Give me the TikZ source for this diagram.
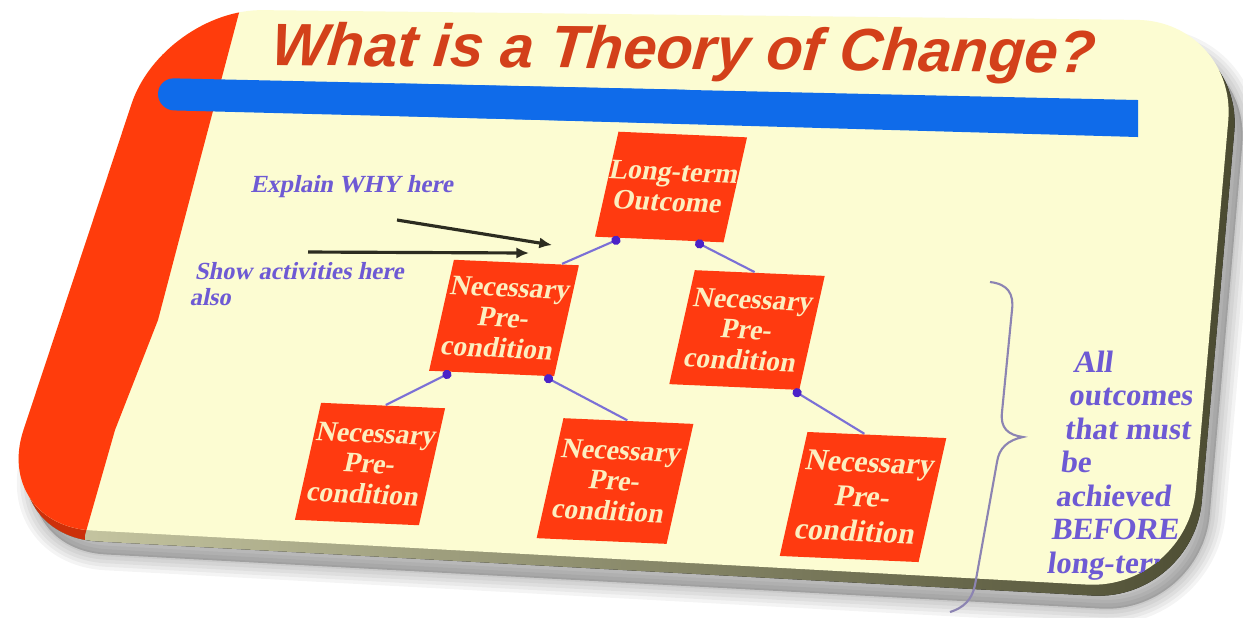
\documentclass[tikz,border=0pt]{standalone}
\usepackage{fontspec}
\setmainfont{Liberation Serif}
\newfontfamily\headfont{Liberation Sans}
\usetikzlibrary{arrows.meta,calc}

\definecolor{slidecream}{HTML}{FCFCD2}
\definecolor{stripred}{HTML}{FF3C0C}
\definecolor{boxred}{HTML}{FF3A10}
\definecolor{boxtext}{HTML}{FCEFC0}
\definecolor{headred}{HTML}{D3401A}
\definecolor{barblue}{HTML}{0F6BEA}
\definecolor{notepurple}{HTML}{6E5AD4}
\definecolor{linkpurple}{HTML}{7B70D6}
\definecolor{dotpurple}{HTML}{4B22C8}
\definecolor{bracegray}{HTML}{8C84B2}
\definecolor{bevlight}{HTML}{CDCDA8}
\definecolor{bevdark}{HTML}{4A4A30}
\definecolor{pointer}{HTML}{2C2C20}

% outline of the slide face and of its red strip
\newcommand\facepath{(163,-9) -- (1237,-21) -- (1187,-590) -- (-8,-525) -- cycle}
\newcommand\strippath{(250,40) -- (240,-9) -- (200,-160) -- (158,-320) -- (115,-430) -- (85,-535) -- (80,-640) -- (-60,-640) -- (-60,40) -- cycle}

\begin{document}
\begin{tikzpicture}[x=0.01cm, y=0.01cm,
    pcbox/.style={fill=boxred, text=boxtext,
        font=\bfseries\fontsize{8}{8.6}\selectfont,
        align=center, inner sep=0pt, xslant=0.18, rotate=-2.5},
    link/.style={linkpurple, line width=0.6pt,
        -{Circle[length=2.6pt, color=dotpurple, fill=dotpurple]}},
    ptr/.style={pointer, line width=0.9pt, -{Latex[length=3.6pt, width=3.2pt]}},
    note/.style={text=notepurple, font=\bfseries\fontsize{7}{7.2}\selectfont,
        align=left, inner sep=0pt}]
  \useasboundingbox (0,0) rectangle (1243,-617);
  \fill[white] (0,0) rectangle (1243,-617);

  % shadow, bevel and face
  \foreach \w in {9,7,5,3,1}
    \filldraw[black, opacity=0.045, line width=\w pt, rounded corners=1cm,
      shift={(14,-24)}] \facepath;
  \fill[rounded corners=1cm, left color=bevlight, right color=bevdark,
    shift={(6,-11)}] \facepath;
  \begin{scope}
    \clip \strippath;
    \fill[stripred!80!black, rounded corners=1cm, shift={(6,-11)}] \facepath;
  \end{scope}
  \fill[slidecream, rounded corners=1cm] \facepath;
  \begin{scope}
    \clip[rounded corners=1cm] \facepath;
    \fill[stripred] \strippath;
  \end{scope}

  % title and bar
  \fill[barblue, rounded corners=0.16cm] (158,-78) -- (700,-90) -- (700,-124) -- (158,-110) -- cycle;
  \fill[barblue] (400,-83.5) -- (1138,-100) -- (1138,-137) -- (400,-116) -- cycle;
  \node[font=\headfont\bfseries\itshape\fontsize{17}{20}\selectfont, text=headred,
    anchor=base, inner sep=0pt, xslant=0.08, rotate=-0.5] (ttl) at (682,-69)
    {What is a Theory of Change?};

  % boxes
  \node[pcbox, minimum width=1.26cm, minimum height=1.05cm] (lto) at (671,-187) {Long-term\\Outcome};
  \node[pcbox, minimum width=1.26cm, minimum height=1.11cm] (pcL) at (504,-318) {Necessary\\Pre-\\condition};
  \node[pcbox, minimum width=1.31cm, minimum height=1.14cm] (pcR) at (747,-330) {Necessary\\Pre-\\condition};
  \node[pcbox, minimum width=1.25cm, minimum height=1.17cm] (pcBL) at (370,-464) {Necessary\\Pre-\\condition};
  \node[pcbox, minimum width=1.31cm, minimum height=1.2cm] (pcBM) at (615,-481) {Necessary\\Pre-\\condition};
  \node[pcbox, minimum width=1.4cm, minimum height=1.24cm,
    font=\bfseries\fontsize{8.6}{9.8}\selectfont] (pcBR) at (863,-497) {Necessary\\Pre-\\condition};

  \draw[link] ($(pcL.north west)!0.86!(pcL.north east)$) -- ($(lto.south west)!0.2!(lto.south east)$);
  \draw[link] ($(pcR.north west)!0.46!(pcR.north east)$) -- ($(lto.south west)!0.78!(lto.south east)$);
  \draw[link] ($(pcBL.north west)!0.52!(pcBL.north east)$) -- ($(pcL.south west)!0.18!(pcL.south east)$);
  \draw[link] ($(pcBM.north west)!0.49!(pcBM.north east)$) -- ($(pcL.south west)!0.92!(pcL.south east)$);
  \draw[link] ($(pcBR.north west)!0.41!(pcBR.north east)$) -- ($(pcR.south west)!0.95!(pcR.south east)$);

  % notes on the left
  \node[note, xslant=0.2, anchor=base west] (why) at (250,-192) {Explain WHY here};
  \node[note, xslant=0.2, anchor=base west] (act) at (189,-305) {Show activities here\\also};
  \coordinate (whyS) at (397,-220);
  \coordinate (whyE) at (552,-245);
  \coordinate (actS) at (308,-252);
  \coordinate (actE) at (529,-253);
  \draw[ptr] (whyS) -- (whyE);
  \draw[ptr] (actS) -- (actE);

  % brace and note on the right
  \draw[bracegray, line width=0.6pt] (990,-282) .. controls (1008,-284) and (1014,-294) .. (1012,-310)
    -- (1002,-412) .. controls (1000,-428) and (1008,-435) .. (1023,-437)
    .. controls (1008,-440) and (999,-448) .. (997,-462)
    -- (975,-585) .. controls (972,-600) and (963,-608) .. (950,-612);
  \begin{scope}
    \clip[rounded corners=1cm] \facepath;
    \node[note, font=\bfseries\fontsize{8.8}{9.5}\selectfont, xslant=0.13, anchor=base west]
      (allnote) at (1046,-573) {All\\outcomes\\that must\\be\\achieved\\BEFORE\\long-term};
  \end{scope}
\end{tikzpicture}
\end{document}
